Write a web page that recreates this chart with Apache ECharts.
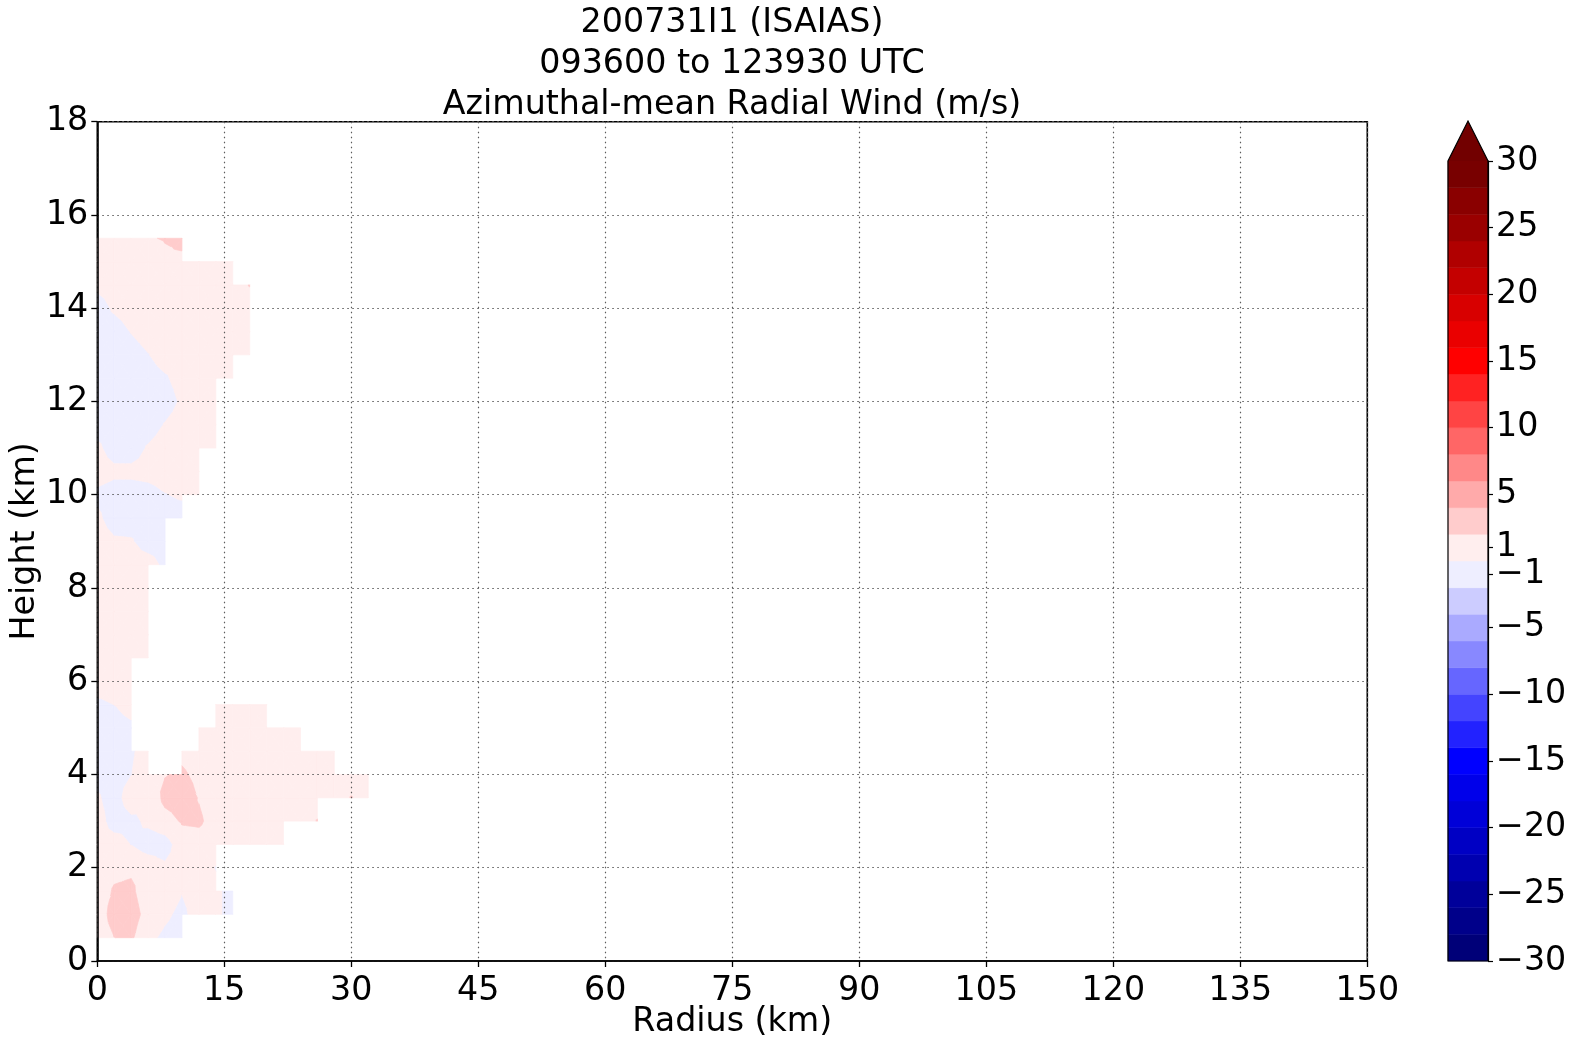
<!DOCTYPE html>
<html><head><meta charset="utf-8">
<script src="https://cdn.jsdelivr.net/npm/echarts@6/dist/echarts.min.js"></script>
<style>html,body{margin:0;padding:0;background:#fff}#c{width:1574px;height:1045px}</style>
</head><body><div id="c"></div>
<script>
// ---- data ----
const radiusKm = [0,2,4,6,8,10,12,14,16,18,20,22,24,26,28,30,32];
const heightKm = [0.5,1.0,1.5,2.0,2.5,3.0,3.5,4.0,4.5,5.0,5.5,6.0,6.5,7.0,7.5,8.0,8.5,9.0,9.5,10.0,10.5,11.0,11.5,12.0,12.5,13.0,13.5,14.0,14.5,15.0,15.5];
const _ = null;
// radialWind[heightIndex][radiusIndex], m/s (null = no data)
const radialWind = [
 [1,1.98,2.3,0.46,-0.4,-1,_,_,_,_,_,_,_,_,_,_,_],                 // 0.5
 [1,2.74,2.9,1.26,0.37,-0.5,0.93,0.54,-1,_,_,_,_,_,_,_,_],        // 1.0
 [1,2.2,2.4,0.8,1,0.1,1,0.54,-1,_,_,_,_,_,_,_,_],                 // 1.5
 [1,1.5,1.66,1.27,0.3,1,1,-0.1,_,_,_,_,_,_,_,_,_],                // 2.0
 [1,1,-0.05,-1,-0.8,1,1.2,1,1,1,1,1,_,_,_,_,_],                   // 2.5
 [1,-1,-0.5,0.41,1.2,2.2,2.3,1.2,1,1,1,1,1,2.1,_,_,_],            // 3.0
 [0.3,-1,1.22,0.2,2.6,3.0,1.9,1,1,1,1,1,1,1,1,2.1,1],             // 3.5
 [-0.8,-1,-0.05,1.2,1.9,2.3,1.5,1,1,1,1,1,1,1,1,1,1],             // 4.0
 [-1,-1,-0.3,1,_,1.5,1,1,1,1,1,1,1,1,1,_,_],                      // 4.5
 [-1,-1,-0.5,_,_,_,1,1,1,1,1,1,1,_,_,_,_],                        // 5.0
 [-0.4,0.02,1,_,_,_,_,1,1,1,1,_,_,_,_,_,_],                       // 5.5
 [1,1,1,_,_,_,_,_,_,_,_,_,_,_,_,_,_],                             // 6.0
 [1,1,1,1,_,_,_,_,_,_,_,_,_,_,_,_,_],                             // 6.5
 [1,1,1,1,_,_,_,_,_,_,_,_,_,_,_,_,_],                             // 7.0
 [1,1,1,1,_,_,_,_,_,_,_,_,_,_,_,_,_],                             // 7.5
 [1,1,1,1,_,_,_,_,_,_,_,_,_,_,_,_,_],                             // 8.0
 [1,1,1,0.9,-0.5,_,_,_,_,_,_,_,_,_,_,_,_],                        // 8.5
 [1,0.3,0.2,-1,-1,_,_,_,_,_,_,_,_,_,_,_,_],                       // 9.0
 [0.43,-1,-1,-1,-1,-1,_,_,_,_,_,_,_,_,_,_,_],                     // 9.5
 [-0.47,-1,-1,-0.8,-0.1,0.32,1,_,_,_,_,_,_,_,_,_,_],              // 10.0
 [1,0.5,0.5,0.7,1,1,1,_,_,_,_,_,_,_,_,_,_],                       // 10.5
 [0.45,-1,-1,0.21,1,1,1,1,_,_,_,_,_,_,_,_,_],                     // 11.0
 [-1,-1,-1,-1,0.13,1,1,1,_,_,_,_,_,_,_,_,_],                      // 11.5
 [-1,-1,-1,-1,-1,0.33,1,1,_,_,_,_,_,_,_,_,_],                     // 12.0
 [-1,-1,-1,-1,-0.3,0.9,1,1,1,_,_,_,_,_,_,_,_],                    // 12.5
 [-1,-1,-1,-0.1,1.1,1,1,1,1,1,_,_,_,_,_,_,_],                     // 13.0
 [-1,-1,0.1,1,1,1,1,1,1,1,_,_,_,_,_,_,_],                         // 13.5
 [-1,0.33,1,1,1,1,1,1,1,1,_,_,_,_,_,_,_],                         // 14.0
 [0.5,1,1,1,1,1,1,1,1,2.1,_,_,_,_,_,_,_],                         // 14.5
 [1,1,1,1,1.65,1.5,1,1,1,_,_,_,_,_,_,_,_],                        // 15.0
 [1,1,1,1.88,2.1,2.6,_,_,_,_,_,_,_,_,_,_,_]                       // 15.5
];
const contourLevels = [-30,-28,-26,-24,-22,-20,-18,-16,-14,-12,-10,-8,-6,-4,-2,0,2,4,6,8,10,12,14,16,18,20,22,24,26,28,30];
const bandColors = ['#000078','#00008a','#00009a','#0000b0','#0000c4','#0000d8','#0000ea','#0000ff',
  '#2222ff','#4444ff','#6666ff','#8888ff','#aaaaff','#ccccff','#eeeeff',
  '#ffeeee','#ffcccc','#ffaaaa','#ff8888','#ff6666','#ff4444','#ff2222','#ff0000',
  '#ea0000','#d80000','#c40000','#b00000','#9a0000','#8a0000','#780000'];
const overColor = '#720000';
const colorbarTicks = [-30,-25,-20,-15,-10,-5,-1,1,5,10,15,20,25,30];
const titleLines = ['200731I1 (ISAIAS)','093600 to 123930 UTC','Azimuthal-mean Radial Wind (m/s)'];

// ---- build quads (only where all 4 corners have data) ----
const quads = [];
for (let j = 0; j < heightKm.length - 1; j++) {
  for (let i = 0; i < radiusKm.length - 1; i++) {
    const v = [radialWind[j][i], radialWind[j][i+1], radialWind[j+1][i], radialWind[j+1][i+1]];
    if (v.some(x => x == null)) continue;
    quads.push([radiusKm[i], heightKm[j], i, j]);
  }
}
function clipPoly(poly, level, keepAbove) {
  const out = [];
  for (let k = 0; k < poly.length; k++) {
    const P = poly[k], Q = poly[(k+1) % poly.length];
    const pin = keepAbove ? P[2] >= level : P[2] <= level;
    const qin = keepAbove ? Q[2] >= level : Q[2] <= level;
    if (pin) out.push(P);
    if (pin !== qin) {
      const t = (level - P[2]) / (Q[2] - P[2]);
      out.push([P[0] + t*(Q[0]-P[0]), P[1] + t*(Q[1]-P[1]), level]);
    }
  }
  return out;
}
const nL = contourLevels.length;
function renderQuad(params, api) {
  const i = api.value(2), j = api.value(3);
  const r0 = radiusKm[i], r1 = radiusKm[i+1], z0 = heightKm[j], z1 = heightKm[j+1];
  const a = radialWind[j][i], b = radialWind[j][i+1], c = radialWind[j+1][i], d = radialWind[j+1][i+1];
  const A = [r0,z0,a], B = [r1,z0,b], C = [r1,z1,d], D = [r0,z1,c];
  const M = [(r0+r1)/2, (z0+z1)/2, (a+b+c+d)/4];
  const tris = [[A,B,M],[B,C,M],[C,D,M],[D,A,M]];
  const children = [];
  for (const tri of tris) {
    const vmin = Math.min(tri[0][2], tri[1][2], tri[2][2]);
    const vmax = Math.max(tri[0][2], tri[1][2], tri[2][2]);
    for (let k = 0; k < nL; k++) {
      const lo = contourLevels[k];
      const hi = k < nL - 1 ? contourLevels[k+1] : Infinity;
      if (hi < vmin || lo > vmax) continue;
      let poly = clipPoly(tri, lo, true);
      if (hi !== Infinity && poly.length >= 3) poly = clipPoly(poly, hi, false);
      if (poly.length < 3) continue;
      const col = k < nL - 1 ? bandColors[k] : overColor;
      children.push({
        type: 'polygon',
        shape: { points: poly.map(p => api.coord([p[0], p[1]])) },
        style: { fill: col, stroke: col, lineWidth: 0.7 }
      });
    }
  }
  return { type: 'group', children };
}

const FONT = 'DejaVu Sans';
const FS = 33.3;
const chart = echarts.init(document.getElementById('c'), null, { renderer: 'canvas' });
const fmt = v => v < 0 ? '\u2212' + Math.abs(v) : String(v);
const arrowFrac = 0.05;

chart.setOption({
  animation: false,
  backgroundColor: '#fff',
  title: {
    text: titleLines.join('\n'),
    left: 732, top: 3, textAlign: 'center', padding: 0,
    textStyle: { fontFamily: FONT, fontSize: FS, fontWeight: 'normal', color: '#000', lineHeight: 41 }
  },
  grid: [
    { left: 97.3, top: 121.7, width: 1270, height: 839.3, show: true, borderColor: '#000', borderWidth: 1.6,
      backgroundColor: 'transparent', outerBoundsMode: 'none', containLabel: false },
    { left: 1448, top: 161, width: 40, height: 800, show: false, outerBoundsMode: 'none', containLabel: false }
  ],
  xAxis: [
    { gridIndex: 0, type: 'value', min: 0, max: 150, interval: 15, z: 3,
      name: 'Radius (km)', nameLocation: 'middle', nameGap: 45, nameMoveOverlap: false,
      nameTextStyle: { fontFamily: FONT, fontSize: FS, color: '#000' },
      axisLine: { show: true, onZero: false, lineStyle: { color: '#000', width: 1.6 } },
      axisTick: { show: true, inside: false, length: 6, lineStyle: { color: '#000', width: 1.3 } },
      axisLabel: { fontFamily: FONT, fontSize: FS, color: '#000', margin: 14 },
      splitLine: { show: true, lineStyle: { color: '#5a5a5a', width: 1.2, type: [1.5, 3.5] } } },
    { gridIndex: 1, type: 'value', min: 0, max: 1, show: false }
  ],
  yAxis: [
    { gridIndex: 0, type: 'value', min: 0, max: 18, interval: 2, z: 3,
      name: 'Height (km)', nameLocation: 'middle', nameGap: 55, nameRotate: 90, nameMoveOverlap: false,
      nameTextStyle: { fontFamily: FONT, fontSize: FS, color: '#000' },
      axisLine: { show: true, onZero: false, lineStyle: { color: '#000', width: 1.6 } },
      axisTick: { show: true, inside: false, length: 6, lineStyle: { color: '#000', width: 1.3 } },
      axisLabel: { fontFamily: FONT, fontSize: FS, color: '#000', margin: 9, padding: [16, 0, 0, 0] },
      splitLine: { show: true, lineStyle: { color: '#5a5a5a', width: 1.2, type: [1.5, 3.5] } } },
    { gridIndex: 1, type: 'value', min: -30, max: 30, position: 'right', z: 3,
      axisLine: { show: true, onZero: false, lineStyle: { color: '#000', width: 1.2 } },
      axisTick: { show: true, inside: false, length: 5, customValues: colorbarTicks, lineStyle: { color: '#000', width: 1.2 } },
      axisLabel: { fontFamily: FONT, fontSize: FS, color: '#000', margin: 8, padding: [16, 0, 0, 0], customValues: colorbarTicks, formatter: fmt },
      splitLine: { show: false } }
  ],
  series: [
    { type: 'custom', name: 'radial wind', coordinateSystem: 'cartesian2d', xAxisIndex: 0, yAxisIndex: 0,
      z: 1, silent: true, data: quads, encode: { x: 0, y: 1 }, renderItem: renderQuad },
    { type: 'custom', name: 'colorbar', coordinateSystem: 'cartesian2d', xAxisIndex: 1, yAxisIndex: 1,
      z: 1, silent: true,
      data: contourLevels.slice(0, -1).map((lo, k) => [0.5, lo, contourLevels[k+1], k]),
      encode: { x: 0, y: 1 },
      renderItem: function (params, api) {
        const p0 = api.coord([0, api.value(1)]), p1 = api.coord([1, api.value(2)]);
        const col = bandColors[api.value(3)];
        return { type: 'rect', shape: { x: p0[0], y: p1[1], width: p1[0] - p0[0], height: p0[1] - p1[1] },
                 style: { fill: col, stroke: col, lineWidth: 0.5 } };
      } },
    { type: 'custom', name: 'colorbar outline', coordinateSystem: 'cartesian2d', xAxisIndex: 1, yAxisIndex: 1,
      z: 5, silent: true,
      data: [[0.5, contourLevels[0], contourLevels[nL-1]]],
      encode: { x: 0, y: 1 },
      renderItem: function (params, api) {
        const lo = api.value(1), hi = api.value(2);
        const tip = hi + arrowFrac * (hi - lo);
        const bl = api.coord([0, lo]), tl = api.coord([0, hi]), t = api.coord([0.5, tip]), tr = api.coord([1, hi]), br = api.coord([1, lo]);
        return { type: 'group', children: [
          { type: 'polygon', shape: { points: [tl, t, tr] }, style: { fill: overColor } },
          { type: 'polygon', shape: { points: [bl, tl, t, tr, br] }, style: { fill: null, stroke: '#000', lineWidth: 1.2 } }
        ] };
      } }
  ]
});
</script></body></html>
